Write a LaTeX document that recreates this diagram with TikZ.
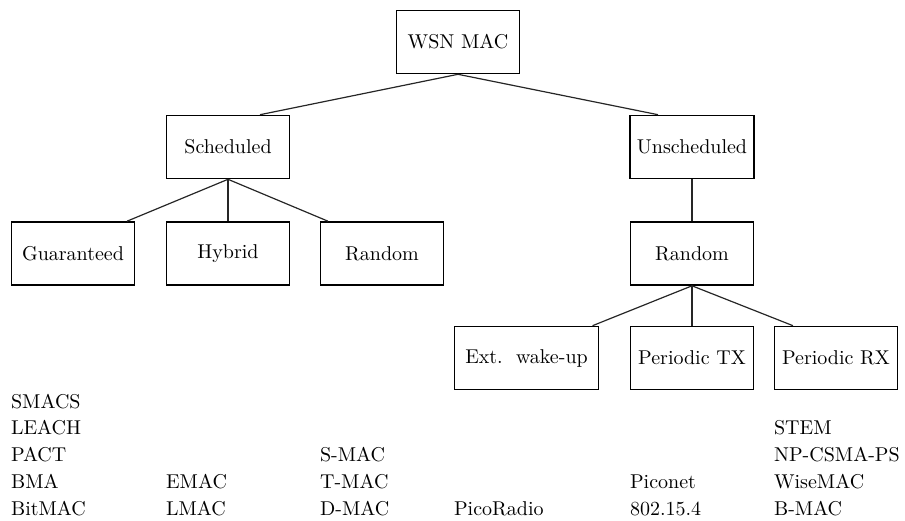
\documentclass[tikz,border=0pt]{standalone}
\usepackage{tikz}

\begin{document}
\begin{tikzpicture}[
    x=0.5pt, y=-0.5pt,
    every node/.style={font=\normalsize},
    cls/.style={rectangle,draw,line width=0.8pt,minimum width=61.5pt,minimum height=31.5pt,inner sep=3.33pt},
    proto/.style={anchor=base west,inner sep=0pt},
    treeedge/.style={line width=0.6pt,black!85},
]
\useasboundingbox (0,0) rectangle (905,520);
\node[cls] (WSN) at (458,42)    {WSN MAC};
\node[cls] (Sch) at (228,147)   {Scheduled};
\node[cls] (Uns) at (692,147)   {Unscheduled};
\node[cls] (Gua) at (73,253.5)  {Guaranteed};
\node[cls] (Hyb) at (228,253.5) {Hybrid};
\node[cls] (RnS) at (382,253.5) {Random};
\node[cls] (RnU) at (692,253.5) {Random};
\node[cls,minimum width=72pt] (Ext) at (526.5,358) {Ext.~~wake-up};
\node[cls] (PTX) at (692,358)   {Periodic TX};
\node[cls] (PRX) at (836,358)   {Periodic RX};
\foreach \p/\c/\dx in {WSN/Sch/16, WSN/Uns/-17, Sch/Gua/27, Sch/Hyb/0, Sch/RnS/-27,
                       Uns/RnU/0, RnU/Ext/33, RnU/PTX/0, RnU/PRX/-21.5}{
  \draw[treeedge] (\p.south) -- ([xshift=\dx pt]\c.north);
}
% protocol lists under the leaves
\foreach \col/\txt/\r [evaluate=\r as \yy using 381.25+26.75*\r] in {
    Gua/SMACS/1, Gua/LEACH/2, Gua/PACT/3, Gua/BMA/4, Gua/BitMAC/5,
    Hyb/EMAC/4, Hyb/LMAC/5,
    RnS/S-MAC/3, RnS/T-MAC/4, RnS/D-MAC/5,
    Ext/PicoRadio/5,
    PTX/Piconet/4, PTX/802.15.4/5,
    PRX/STEM/2, PRX/NP-CSMA-PS/3, PRX/WiseMAC/4, PRX/B-MAC/5}{
  \node[proto] (\col\r) at (\col.west |- 0,\yy) {\txt};
}
\end{tikzpicture}
\end{document}
